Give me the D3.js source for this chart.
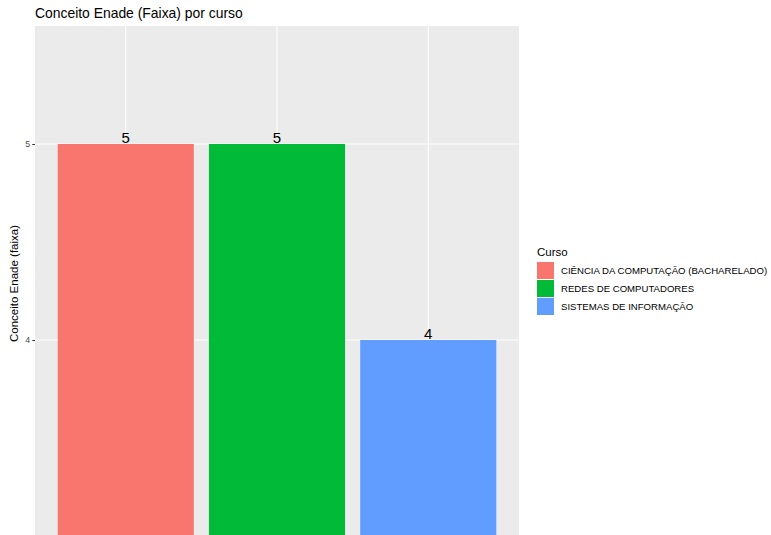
<!DOCTYPE html>
<html><head><meta charset="utf-8">
<script src="https://cdn.jsdelivr.net/npm/d3@7"></script>
<style>body{margin:0;background:#fff}svg{display:block;font-family:"Liberation Sans",Arial,sans-serif}</style>
</head><body><svg id="c" width="771" height="535"></svg>
<script>
const categories = ["CIÊNCIA DA COMPUTAÇÃO (BACHARELADO)", "REDES DE COMPUTADORES", "SISTEMAS DE INFORMAÇÃO"];
const values = [5, 5, 4];
const colors = ["#F8766D", "#00BA38", "#619CFF"];
const yTicks = [4, 5];

const svg = d3.select("#c");
const panel = {left: 35, right: 519, top: 26, bottom: 535};

// y scale: 5 -> 144, 4 -> 340
const y = d3.scaleLinear().domain([4, 5]).range([340, 144]);
const x = d3.scaleBand().domain(categories)
  .range([panel.left, panel.right]).paddingInner(0.1).paddingOuter(0.15);

svg.append("rect").attr("x", panel.left).attr("y", panel.top)
  .attr("width", panel.right - panel.left).attr("height", panel.bottom - panel.top)
  .attr("fill", "#EBEBEB");

// gridlines
svg.append("g").selectAll("line").data(yTicks).join("line")
  .attr("x1", panel.left).attr("x2", panel.right)
  .attr("y1", d => y(d)).attr("y2", d => y(d))
  .attr("stroke", "#fff").attr("stroke-width", 1.07);
svg.append("g").selectAll("line").data(categories).join("line")
  .attr("x1", d => x(d) + x.bandwidth() / 2).attr("x2", d => x(d) + x.bandwidth() / 2)
  .attr("y1", panel.top).attr("y2", panel.bottom)
  .attr("stroke", "#fff").attr("stroke-width", 1.07);

// bars
svg.append("g").selectAll("rect").data(categories).join("rect")
  .attr("x", d => x(d)).attr("width", x.bandwidth())
  .attr("y", (d, i) => y(values[i])).attr("height", (d, i) => panel.bottom - y(values[i]))
  .attr("fill", (d, i) => colors[i]);

// labels
svg.append("g").selectAll("text").data(categories).join("text")
  .attr("x", d => x(d) + x.bandwidth() / 2).attr("y", (d, i) => y(values[i]) - 1.5)
  .attr("text-anchor", "middle").attr("font-size", 15).attr("fill", "#000")
  .text((d, i) => values[i]);

// y axis
const ya = svg.append("g").attr("transform", `translate(${panel.left},0)`)
  .call(d3.axisLeft(y).tickValues(yTicks).tickSize(2.7).tickPadding(2.2).tickFormat(d3.format("d")));
ya.select(".domain").remove();
ya.selectAll("line").attr("stroke", "#333").attr("stroke-width", 1.07);
ya.selectAll("text").attr("fill", "#4D4D4D").attr("font-size", 8.8).attr("font-family", "Liberation Sans, Arial, sans-serif");

svg.append("text").attr("transform", `translate(18,${(panel.top + panel.bottom) / 2 + 3}) rotate(-90)`)
  .attr("text-anchor", "middle").attr("font-size", 11.5).attr("fill", "#000")
  .text("Conceito Enade (faixa)");

svg.append("text").attr("x", 35).attr("y", 18).attr("font-size", 13.9).attr("fill", "#000")
  .text("Conceito Enade (Faixa) por curso");

// legend
const lg = svg.append("g").attr("transform", "translate(537,0)");
lg.append("text").attr("x", 0).attr("y", 256).attr("font-size", 11.5).attr("fill", "#000").text("Curso");
const items = lg.selectAll("g.item").data(categories).join("g").attr("class", "item")
  .attr("transform", (d, i) => `translate(0,${262 + i * 18})`);
items.append("rect").attr("width", 17).attr("height", 17).attr("fill", (d, i) => colors[i]);
items.append("text").attr("x", 24).attr("y", 12).attr("font-size", 9.6).attr("fill", "#000").text(d => d);
</script></body></html>
